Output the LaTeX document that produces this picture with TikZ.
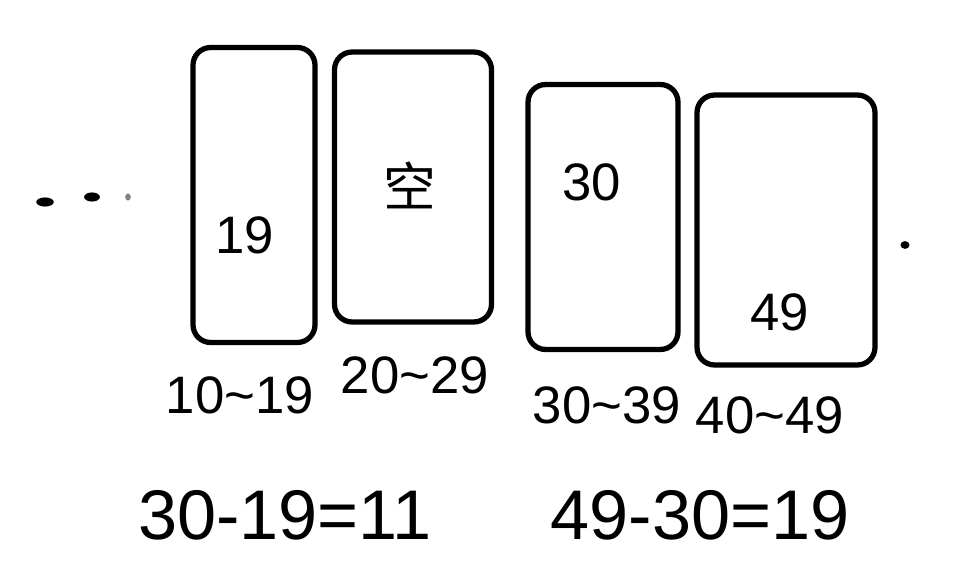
\documentclass[tikz,border=0pt]{standalone}
\usepackage{fontspec}
\setmainfont{Liberation Sans}
\newfontfamily\cjk{Noto Sans CJK SC}

\begin{document}
\begin{tikzpicture}[x=0.02cm, y=-0.02cm, line width=3pt, line cap=round,
        bucket/.style={draw, rounded corners=10pt, inner sep=0pt},
        num/.style={font=\fontsize{30}{32}\selectfont},
        calc/.style={font=\fontsize{40}{42}\selectfont}]
        \useasboundingbox (0,0) rectangle (968,564);
        % buckets with their content and range
        \foreach \n/\x/\y/\w/\h/\v/\vx/\vy/\r/\rx/\ry in {
            1/254/195/2.44/5.9/19/245/235/10\textasciitilde19/240/395,
            2/413/187/3.14/5.4/{\cjk 空}/410/185/20\textasciitilde29/415/375,
            3/603/217/3.0/5.3/30/592/182/30\textasciitilde39/607/405,
            4/786/230/3.56/5.4/49/780/312/40\textasciitilde49/770/415
        }{
            \node[bucket, minimum width=\w cm, minimum height=\h cm] (box\n) at (\x,\y) {};
            \node[num] (val\n) at (\vx,\vy) {\v};
            \node[num] (range\n) at (\rx,\ry) {\r};
        }
        % dots left and right
        \fill (45,202) ellipse [x radius=5pt, y radius=2.6pt];
        \fill (92,197) ellipse [x radius=4.5pt, y radius=2.6pt];
        \fill[gray] (128,197) ellipse [x radius=1.6pt, y radius=2pt];
        \fill (905,245) ellipse [x radius=2.6pt, y radius=2.2pt];
        % differences
        \node[calc] (diff1) at (285,515) {30-19=11};
        \node[calc] (diff2) at (700,515) {49-30=19};
\end{tikzpicture}
\end{document}
